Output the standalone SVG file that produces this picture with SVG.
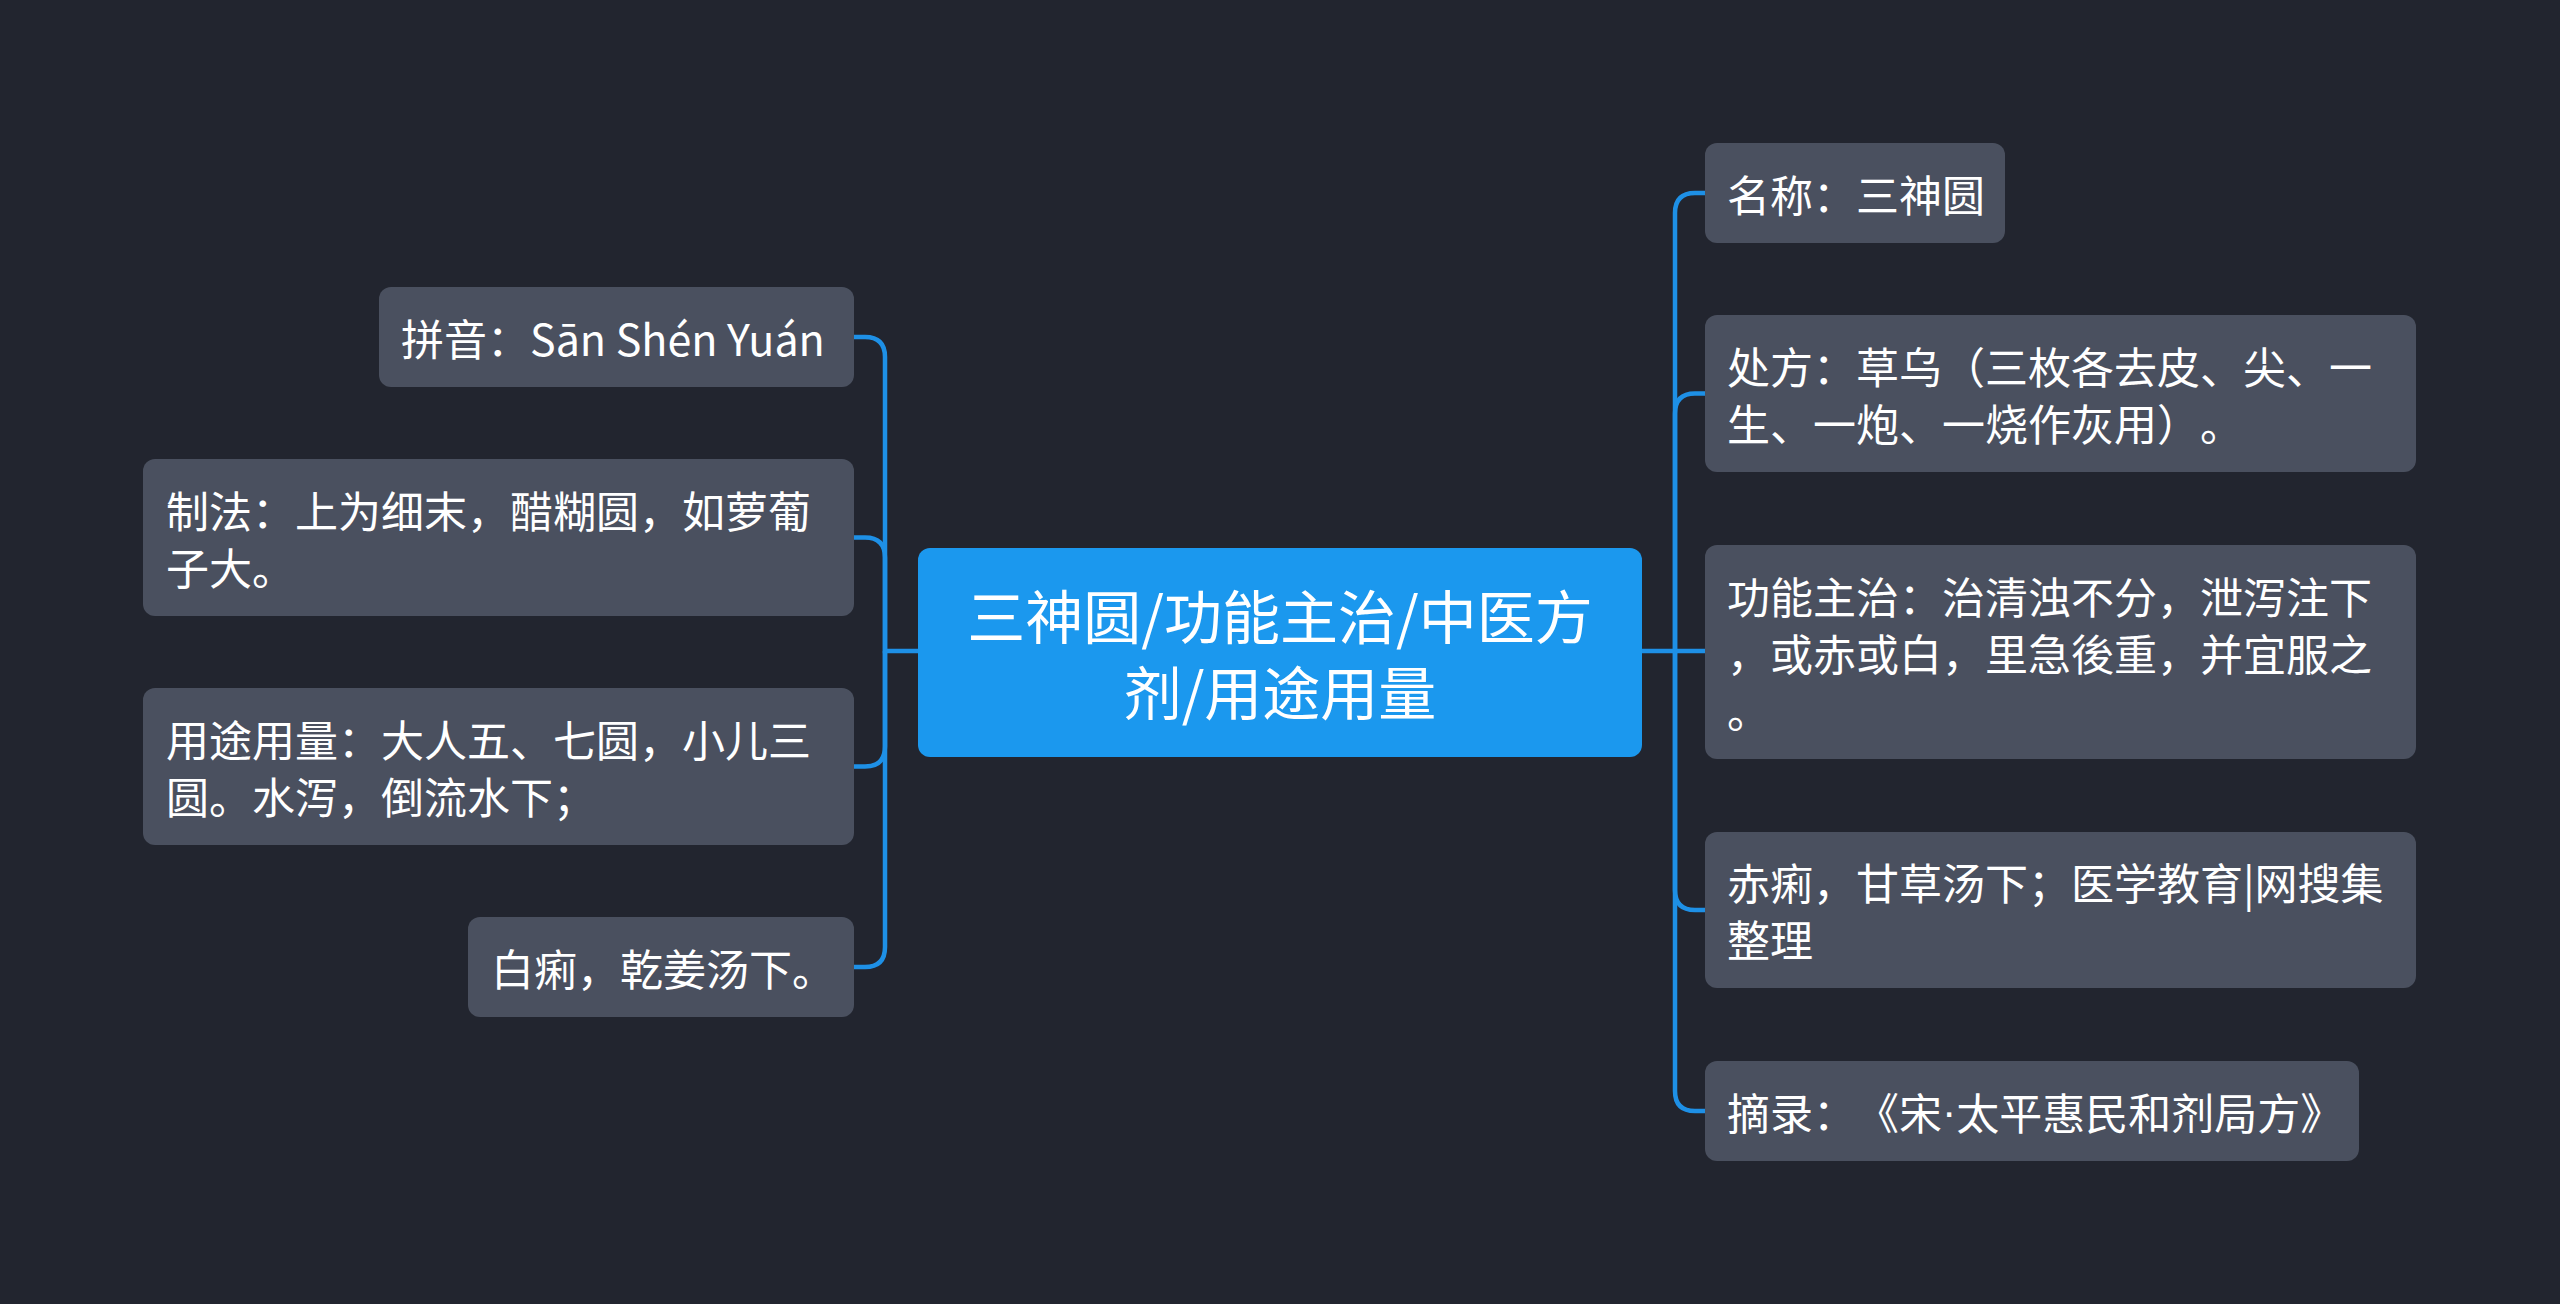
<svg xmlns="http://www.w3.org/2000/svg" width="2560" height="1304" viewBox="0 0 2560 1304">
<style>
.bg{fill:#22252f}
.box{fill:#4a505f}
.root{fill:#1b98ee}
text{text-spacing-trim:space-all}
.t{font-family:"Noto Sans CJK SC","Noto Sans",sans-serif;font-size:43px;fill:#ffffff;dominant-baseline:central}
.rt{font-family:"Noto Sans CJK SC","Noto Sans",sans-serif;font-size:58px;fill:#ffffff;dominant-baseline:central;text-anchor:middle}
.dot{font-family:"Liberation Sans",sans-serif}
.c{fill:none;stroke:#1e90e6;stroke-width:4.5}
</style>
<rect class="bg" x="0" y="0" width="2560" height="1304"/>
<g id="connectors">
<path class="c" d="M918 651 H885 V357 Q885 337 865 337 H854"/>
<path class="c" d="M885 651 V557.5 Q885 537.5 865 537.5 H854"/>
<path class="c" d="M885 651 V746.5 Q885 766.5 865 766.5 H854"/>
<path class="c" d="M885 651 V947 Q885 967 865 967 H854"/>
<path class="c" d="M1642 651 H1675 V213 Q1675 193 1695 193 H1705"/>
<path class="c" d="M1675 651 V413.5 Q1675 393.5 1695 393.5 H1705"/>
<path class="c" d="M1675 651 H1705"/>
<path class="c" d="M1675 651 V890 Q1675 910 1695 910 H1705"/>
<path class="c" d="M1675 651 V1091 Q1675 1111 1695 1111 H1705"/>
</g>
<g id="root">
<rect class="root" x="918" y="548" width="724" height="209" rx="12"/>
<text class="rt" x="1280" y="614">三神圆/功能主治/中医方</text>
<text class="rt" x="1280" y="690">剂/用途用量</text>
</g>
<g id="pinyin">
<rect class="box" x="379" y="287" width="475" height="100" rx="12"/>
<text class="t" x="401" y="337">拼音：Sān Shén Yuán</text>
</g>
<g id="zhifa">
<rect class="box" x="143" y="459" width="711" height="157" rx="12"/>
<text class="t" x="166" y="509">制法：上为细末，醋糊圆，如萝葡</text>
<text class="t" x="166" y="566">子大。</text>
</g>
<g id="yongtu">
<rect class="box" x="143" y="688" width="711" height="157" rx="12"/>
<text class="t" x="166" y="738">用途用量：大人五、七圆，小儿三</text>
<text class="t" x="166" y="795">圆。水泻，倒流水下；</text>
</g>
<g id="baili">
<rect class="box" x="468" y="917" width="386" height="100" rx="12"/>
<text class="t" x="491" y="967">白痢，乾姜汤下。</text>
</g>
<g id="mingcheng">
<rect class="box" x="1705" y="143" width="300" height="100" rx="12"/>
<text class="t" x="1727" y="193">名称：三神圆</text>
</g>
<g id="chufang">
<rect class="box" x="1705" y="315" width="711" height="157" rx="12"/>
<text class="t" x="1727" y="365">处方：草乌（三枚各去皮、尖、一</text>
<text class="t" x="1727" y="422">生、一炮、一烧作灰用）。</text>
</g>
<g id="gongneng">
<rect class="box" x="1705" y="545" width="711" height="214" rx="12"/>
<text class="t" x="1727" y="595">功能主治：治清浊不分，泄泻注下</text>
<text class="t" x="1727" y="652">，或赤或白，里急後重，并宜服之</text>
<text class="t" x="1727" y="709">。</text>
</g>
<g id="chili">
<rect class="box" x="1705" y="832" width="711" height="156" rx="12"/>
<text class="t" x="1727" y="881">赤痢，甘草汤下；医学教育|网搜集</text>
<text class="t" x="1727" y="938">整理</text>
</g>
<g id="zhailu">
<rect class="box" x="1705" y="1061" width="654" height="100" rx="12"/>
<text class="t" x="1727" y="1111">摘录：《宋<tspan class="dot">·</tspan>太平惠民和剂局方》</text>
</g>
</svg>
